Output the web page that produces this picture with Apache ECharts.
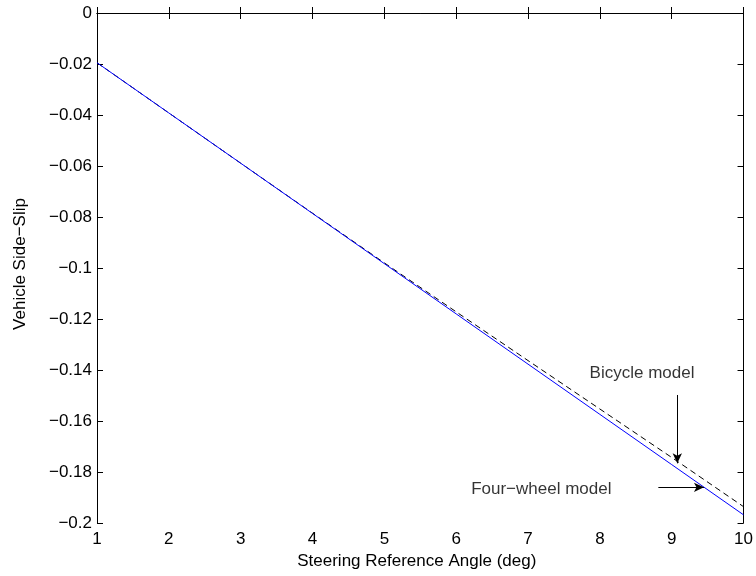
<!DOCTYPE html>
<html>
<head>
<meta charset="utf-8">
<script src="https://cdn.jsdelivr.net/npm/echarts@6/dist/echarts.min.js"></script>
<style>
  html, body { margin: 0; padding: 0; background: #fff; }
  #chart { width: 756px; height: 576px; }
</style>
</head>
<body>
<div id="chart"></div>
<script>
// Steering reference angle (deg)
const steeringAngle = [1, 2, 3, 4, 5, 6, 7, 8, 9, 10];
// Vehicle side-slip, four-wheel model (solid blue)
const fourWheelSlip = [-0.0195, -0.0392, -0.0589, -0.0786, -0.0983, -0.1180, -0.1377, -0.1574, -0.1771, -0.1968];
// Vehicle side-slip, bicycle model (dashed black)
const bicycleSlip = [-0.0195, -0.0392, -0.0589, -0.0785, -0.0980, -0.1172, -0.1363, -0.1553, -0.1743, -0.1936];

// Annotation anchors in data units
const bicycleLabel = { text: 'Bicycle model', x: 8.587, y: -0.1412 };
const bicycleArrow = { from: [9.078, -0.1498], to: [9.078, -0.1766] };
const fourWheelLabel = { text: 'Four\u2212wheel model', x: 6.208, y: -0.1868 };
const fourWheelArrow = { from: [8.814, -0.186], to: [9.449, -0.186] };

const FONT = '"Liberation Sans", Arial, Helvetica, sans-serif';
const FS = 17;
const fmtY = v => {
  if (Math.abs(v) < 1e-9) return '0';
  const s = String(Math.round(Math.abs(v) * 100) / 100);
  return '\u2212' + s;
};

const chart = echarts.init(document.getElementById('chart'), null, { renderer: 'canvas' });

const axisCommon = {
  axisLine: { show: true, lineStyle: { color: '#000', width: 1 } },
  axisTick: { show: true, inside: true, length: 6, lineStyle: { color: '#000', width: 1 } },
  splitLine: { show: false },
  minorTick: { show: false }
};

function pairs(xs, ys) { return xs.map((x, i) => [x, ys[i]]); }

const option = {
  animation: false,
  backgroundColor: '#fff',
  grid: { left: 97, right: 12, top: 13, bottom: 53, containLabel: false },
  xAxis: [
    Object.assign({}, axisCommon, {
      type: 'value', min: 1, max: 10, interval: 1, position: 'bottom',
      axisLabel: { show: true, color: '#000', fontSize: FS, fontFamily: FONT, margin: 8 },
      name: 'Steering Reference Angle (deg)', nameLocation: 'middle', nameGap: 30,
      nameTextStyle: { color: '#000', fontSize: FS, fontFamily: FONT, padding: [0, 7, 0, 0] }
    }),
    Object.assign({}, axisCommon, {
      type: 'value', min: 1, max: 10, interval: 1, position: 'top',
      axisLabel: { show: false }
    })
  ],
  yAxis: [
    Object.assign({}, axisCommon, {
      type: 'value', min: -0.2, max: 0, interval: 0.02, position: 'left',
      axisLabel: { show: true, color: '#000', fontSize: FS, fontFamily: FONT, margin: 5, formatter: fmtY },
      name: 'Vehicle Side\u2212Slip', nameLocation: 'middle', nameGap: 68, nameRotate: 90,
      nameTextStyle: { color: '#000', fontSize: FS, fontFamily: FONT, padding: [0, 0, 0, 8] }
    }),
    Object.assign({}, axisCommon, {
      type: 'value', min: -0.2, max: 0, interval: 0.02, position: 'right',
      axisLabel: { show: false }
    })
  ],
  series: [
    {
      name: 'Bicycle model', type: 'line', data: pairs(steeringAngle, bicycleSlip),
      showSymbol: false, symbol: 'none', smooth: false, z: 3,
      lineStyle: { color: '#000', width: 1, type: [6, 4] }
    },
    {
      name: 'Four-wheel model', type: 'line', data: pairs(steeringAngle, fourWheelSlip),
      showSymbol: false, symbol: 'none', smooth: false, z: 4,
      lineStyle: { color: '#0000ff', width: 1 },
      markLine: {
        silent: true, symbol: ['none', 'arrow'], symbolSize: [7, 10],
        label: { show: false },
        lineStyle: { color: '#000', width: 1, type: 'solid' },
        data: [
          [{ coord: bicycleArrow.from }, { coord: bicycleArrow.to }],
          [{ coord: fourWheelArrow.from }, { coord: fourWheelArrow.to }]
        ]
      }
    },
    {
      type: 'scatter', symbolSize: 0, silent: true, z: 5,
      data: [
        { value: [bicycleLabel.x, bicycleLabel.y], label: { show: true, formatter: bicycleLabel.text, position: 'inside', align: 'center', verticalAlign: 'middle', color: '#000', fontSize: FS, fontFamily: FONT } },
        { value: [fourWheelLabel.x, fourWheelLabel.y], label: { show: true, formatter: fourWheelLabel.text, position: 'inside', align: 'left', verticalAlign: 'middle', color: '#000', fontSize: FS, fontFamily: FONT } }
      ]
    }
  ]
};

chart.setOption(option);
</script>
</body>
</html>
